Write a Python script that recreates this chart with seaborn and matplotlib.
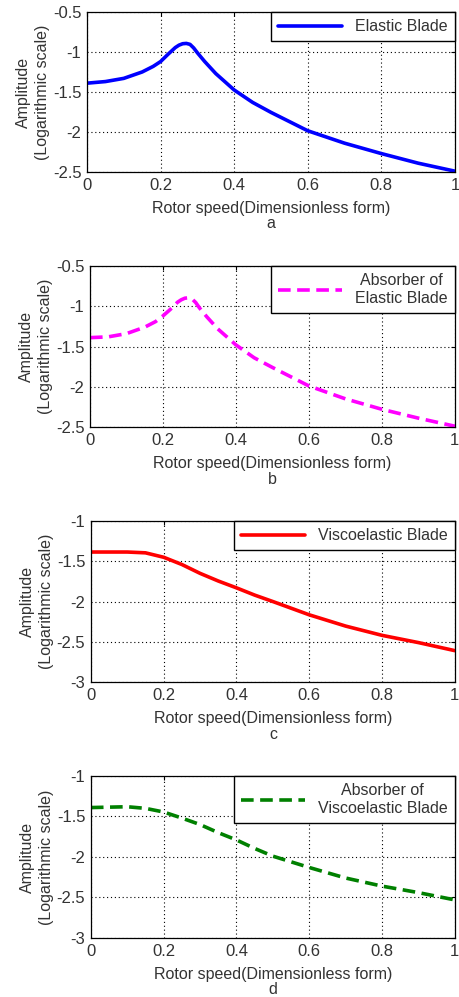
import pandas as pd
import matplotlib
matplotlib.use("Agg")
import matplotlib.pyplot as plt
import seaborn as sns

# data
x_ab = [0, 0.05, 0.1, 0.15, 0.18, 0.2, 0.22, 0.24, 0.25, 0.26, 0.27, 0.28, 0.29, 0.3, 0.32, 0.35,
        0.4, 0.45, 0.5, 0.6, 0.7, 0.8, 0.9, 1.0]
y_elastic = [-1.39, -1.37, -1.33, -1.25, -1.18, -1.12, -1.03, -0.945, -0.915, -0.897, -0.893, -0.905,
             -0.95, -1.01, -1.12, -1.27, -1.475, -1.63, -1.755, -1.985, -2.14, -2.27, -2.39, -2.49]
y_abs_elastic = [-1.39, -1.38, -1.34, -1.26, -1.19, -1.12, -1.04, -0.95, -0.92, -0.90, -0.895, -0.91,
                 -0.955, -1.02, -1.13, -1.28, -1.48, -1.64, -1.76, -1.99, -2.15, -2.28, -2.39, -2.49]

x_cd = [0, 0.05, 0.1, 0.15, 0.2, 0.25, 0.3, 0.35, 0.4, 0.45, 0.5, 0.6, 0.7, 0.8, 0.9, 1.0]
y_visco = [-1.385, -1.385, -1.385, -1.395, -1.45, -1.54, -1.65, -1.745, -1.83, -1.92, -2.0, -2.165,
           -2.305, -2.42, -2.51, -2.61]
y_abs_visco = [-1.39, -1.385, -1.38, -1.40, -1.445, -1.52, -1.60, -1.70, -1.79, -1.895, -1.99, -2.13,
               -2.26, -2.36, -2.44, -2.53]

labels = ["Elastic Blade", "Absorber of\nElastic Blade", "Viscoelastic Blade",
          "Absorber of\nViscoelastic Blade"]
sub = ["a", "b", "c", "d"]
colors = ["#0000ff", "#ff00ff", "#ff0000", "#008000"]
dashed = [False, True, False, True]
ylims = [(-2.5, -0.5), (-2.5, -0.5), (-3, -1), (-3, -1)]
yticks = [[-2.5, -2, -1.5, -1, -0.5], [-2.5, -2, -1.5, -1, -0.5],
          [-3, -2.5, -2, -1.5, -1], [-3, -2.5, -2, -1.5, -1]]
series = [(x_ab, y_elastic), (x_ab, y_abs_elastic), (x_cd, y_visco), (x_cd, y_abs_visco)]

sns.set_style("white")
plt.rcParams["font.family"] = ["Liberation Sans", "DejaVu Sans"]
plt.rcParams["font.size"] = 11.5

fig = plt.figure(figsize=(4.59, 9.97), dpi=100)
boxes = [(0.1895, 0.8275, 0.8017, 0.1605),
         (0.196, 0.5717, 0.795, 0.1615),
         (0.198, 0.3159, 0.793, 0.1615),
         (0.198, 0.0592, 0.793, 0.1625)]

for i in range(4):
    ax = fig.add_axes(boxes[i])
    df = pd.DataFrame({"x": series[i][0], "y": series[i][1]})
    sns.lineplot(data=df, x="x", y="y", ax=ax, color=colors[i], lw=2.6, label=labels[i])
    if dashed[i]:
        ax.lines[0].set_dashes([3.5, 1.8])
    ax.set_xlim(0, 1)
    ax.set_ylim(*ylims[i])
    ax.set_xticks([0, 0.2, 0.4, 0.6, 0.8, 1])
    ax.set_xticklabels(["0", "0.2", "0.4", "0.6", "0.8", "1"])
    ax.set_yticks(yticks[i])
    ax.set_yticklabels(["%g" % t for t in yticks[i]])
    ax.grid(True, linestyle=(0, (1, 2.5)), color="black", lw=0.8)
    ax.tick_params(direction="in", length=3, top=True, right=True, labelsize=12,
                   color="black", labelcolor="#333333", pad=4)
    for s in ax.spines.values():
        s.set_color("black")
        s.set_linewidth(0.9)
    ax.set_xlabel("Rotor speed(Dimensionless form)\n" + sub[i], fontsize=11.5,
                  color="#333333", labelpad=6, linespacing=1.05)
    ax.set_ylabel("Amplitude\n(Logarithmic scale)", fontsize=11.5, color="#333333",
                  labelpad=2, linespacing=1.35)
    leg = ax.legend(loc="upper right", borderaxespad=0, fancybox=False, framealpha=1,
                    edgecolor="black", handlelength=4.0, fontsize=11.5, borderpad=0.45)
    leg.get_frame().set_linewidth(1.0)
    for t in leg.get_texts():
        t.set_multialignment("center")
        t.set_color("#333333")

fig.savefig("out.png", dpi=100)
